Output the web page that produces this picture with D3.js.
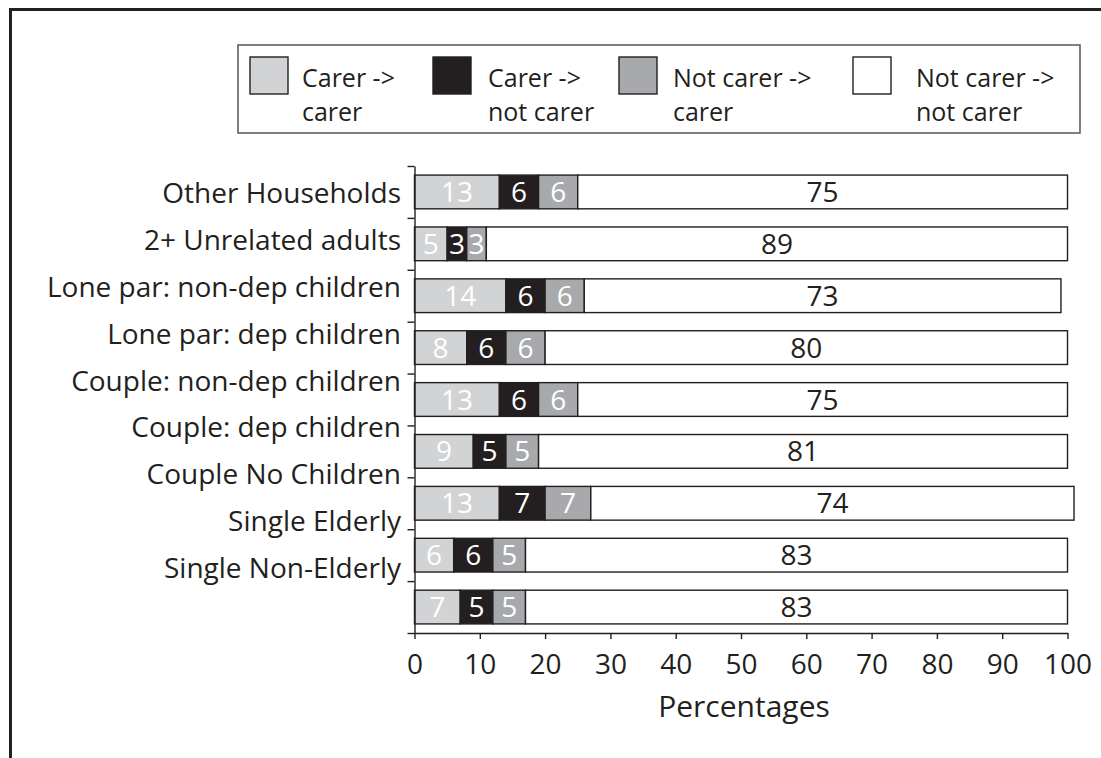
<!DOCTYPE html>
<html>
<head>
<meta charset="utf-8">
<script src="https://cdn.jsdelivr.net/npm/d3@7"></script>
<style>
  html, body { margin: 0; padding: 0; background: #fff; }
  svg { display: block; }
  text { font-family: "Open Sans", "Noto Sans", sans-serif; font-weight: 400; fill: #231f20; }
</style>
</head>
<body>
<svg id="chart" width="1101" height="758"></svg>
<script>
// Household types, top to bottom
const categories = [
  "Other Households",
  "2+ Unrelated adults",
  "Lone par: non-dep children",
  "Lone par: dep children",
  "Couple: non-dep children",
  "Couple: dep children",
  "Couple No Children",
  "Single Elderly",
  "Single Non-Elderly"
];

// Transition series (percentages), one value per bar
const seriesNames = ["Carer -> carer", "Carer -> not carer", "Not carer -> carer", "Not carer -> not carer"];
const carerToCarer       = [13, 5, 14, 8, 13, 9, 13, 6, 7];
const carerToNotCarer    = [6, 3, 6, 6, 6, 5, 7, 6, 5];
const notCarerToCarer    = [6, 3, 6, 6, 6, 5, 7, 5, 5];
const notCarerToNotCarer = [75, 89, 73, 80, 75, 81, 74, 83, 83];

const xTicks = [0, 10, 20, 30, 40, 50, 60, 70, 80, 90, 100];
const xTitle = "Percentages";

// Styling
const fills = ["#d1d3d4", "#231f20", "#a7a9ac", "#ffffff"];
const labelFills = ["#ffffff", "#ffffff", "#ffffff", "#231f20"];
const ink = "#231f20";

const svg = d3.select("#chart");

// Outer frame (top and left edges)
svg.append("line").attr("x1", 9).attr("x2", 1101).attr("y1", 9.5).attr("y2", 9.5)
  .attr("stroke", ink).attr("stroke-width", 3);
svg.append("line").attr("x1", 10.5).attr("x2", 10.5).attr("y1", 8).attr("y2", 758)
  .attr("stroke", ink).attr("stroke-width", 3);

// Scales
const plot = { left: 414.5, right: 1067.5, top: 166, bottom: 633 };
const x = d3.scaleLinear().domain([0, 100]).range([plot.left, plot.right]);
const y = d3.scaleBand().domain(d3.range(categories.length))
  .range([plot.top, plot.bottom]).paddingInner(0.35).paddingOuter(0.175);
const bandEdges = d3.scaleLinear().domain([0, categories.length]).range([plot.top, plot.bottom]);
const labelY = d3.scalePoint().domain(d3.range(categories.length)).range([193, 568]);

// Stack the four series
const rows = categories.map((c, i) => ({
  cat: i,
  s0: carerToCarer[i], s1: carerToNotCarer[i], s2: notCarerToCarer[i], s3: notCarerToNotCarer[i]
}));
const stack = d3.stack().keys(["s0", "s1", "s2", "s3"]);
const layers = stack(rows);

const g = svg.append("g");
layers.forEach((layer, k) => {
  const lg = g.append("g");
  lg.selectAll("rect").data(layer).join("rect")
    .attr("x", d => x(d[0]))
    .attr("y", d => y(d.data.cat))
    .attr("width", d => x(d[1]) - x(d[0]))
    .attr("height", y.bandwidth())
    .attr("fill", fills[k])
    .attr("stroke", ink)
    .attr("stroke-width", 1.4);
  lg.selectAll("text").data(layer).join("text")
    .attr("x", d => (x(d[0]) + x(d[1])) / 2)
    .attr("y", d => y(d.data.cat) + y.bandwidth() / 2)
    .attr("dy", "0.36em")
    .attr("text-anchor", "middle")
    .style("font-size", "28px")
    .style("fill", labelFills[k])
    .text(d => d[1] - d[0]);
});

// Y axis: line with ticks at band edges
const yAxis = d3.axisLeft(bandEdges).tickValues(d3.range(categories.length + 1))
  .tickFormat("").tickSizeInner(7).tickSizeOuter(0);
const yg = svg.append("g").attr("transform", `translate(${plot.left},0)`).call(yAxis);
yg.selectAll("path, line").attr("stroke", ink).attr("stroke-width", 1.4);

// Category labels
svg.append("g").selectAll("text").data(categories).join("text")
  .attr("x", 401)
  .attr("y", (d, i) => labelY(i))
  .attr("dy", "0.36em")
  .attr("text-anchor", "end")
  .style("font-size", "28px")
  .text(d => d);

// X axis
const xAxis = d3.axisBottom(x).tickValues(xTicks).tickSizeInner(6).tickSizeOuter(0).tickPadding(15);
const xg = svg.append("g").attr("transform", `translate(0,${plot.bottom})`).call(xAxis);
xg.attr("font-family", null).attr("font-size", null);
xg.selectAll("path, line").attr("stroke", ink).attr("stroke-width", 1.4);
xg.selectAll("text").style("font-size", "28px").attr("fill", ink);

svg.append("text")
  .attr("x", (plot.left + plot.right) / 2 + 3)
  .attr("y", 717)
  .attr("text-anchor", "middle")
  .style("font-size", "30px")
  .text(xTitle);

// Legend
const legend = svg.append("g");
legend.append("rect").attr("x", 238).attr("y", 45).attr("width", 842).attr("height", 88)
  .attr("fill", "#fff").attr("stroke", "#555").attr("stroke-width", 1.5);
const legendSwatchX = [250, 433, 619, 853];
const legendTextX = [302, 488, 673, 916];
seriesNames.forEach((name, k) => {
  legend.append("rect").attr("x", legendSwatchX[k]).attr("y", 57)
    .attr("width", 38).attr("height", 37)
    .attr("fill", fills[k]).attr("stroke", ink).attr("stroke-width", 1.4);
  const parts = name.split("-> ");
  const t = legend.append("text").attr("x", legendTextX[k]).attr("y", 87).style("font-size", "25px");
  t.append("tspan").attr("x", legendTextX[k]).text(parts[0] + "->");
  t.append("tspan").attr("x", legendTextX[k]).attr("y", 121).text(parts[1]);
});
</script>
</body>
</html>
